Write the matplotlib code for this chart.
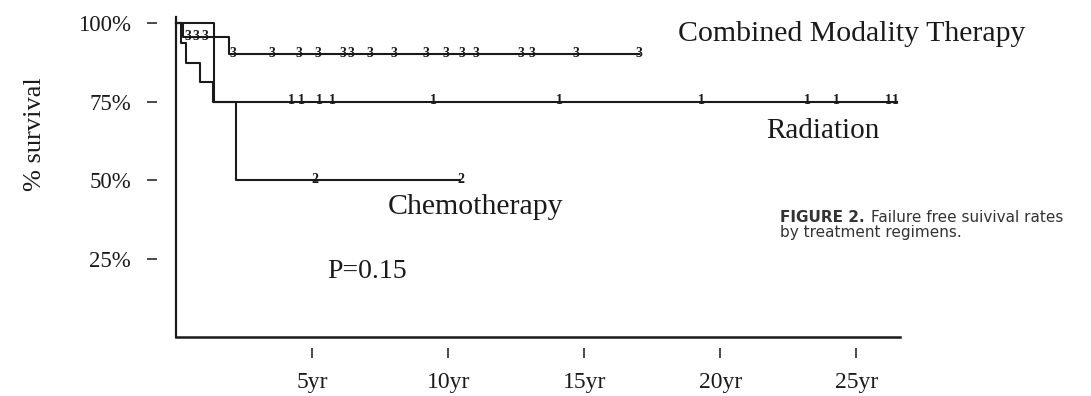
#!/usr/bin/env python3
"""
Kaplan-Meier style failure free survival by treatment regimen (scanned figure redraw).
"""
import numpy as np
import matplotlib
matplotlib.use('Agg')
import matplotlib.pyplot as plt

# step curves: event times (yr) and survival (%) after each step
cmt_t = [0.0, 0.26, 1.95]
cmt_s = [100.0, 95.6, 90.2]
cmt_end = 17.0
cmt_cens = [0.44, 0.72, 1.06, 2.1, 3.52, 4.51, 5.2, 6.12, 6.42, 7.11, 8.02, 9.19,
            9.93, 10.51, 11.03, 12.67, 13.08, 14.69, 17.0]

rad_t = [0.0, 0.18, 0.37, 0.88, 1.36]
rad_s = [100.0, 93.75, 87.5, 81.25, 75.0]
rad_end = 26.5
rad_cens = [4.25, 4.62, 5.27, 5.75, 9.45, 14.07, 19.3, 23.2, 24.25, 26.18, 26.45]

chemo_t = [0.0, 1.39, 2.2]
chemo_s = [100.0, 75.0, 50.0]
chemo_end = 10.45
chemo_cens = [5.1, 10.45]

yticks = [25, 50, 75, 100]
ytick_labels = ['25%', '50%', '75%', '100%']
xticks = [5, 10, 15, 20, 25]
xtick_labels = ['5yr', '10yr', '15yr', '20yr', '25yr']

SERIF = 'Liberation Serif'
INK = '#1a1a1a'


def surv_at(t, times, surv):
    i = np.searchsorted(times, t, side='right') - 1
    return surv[max(i, 0)]


def main():
    fig = plt.figure(figsize=(10.91, 3.96), dpi=100)
    ax = fig.add_axes([0.1613, 0.149, 0.6636, 0.808])
    ax.set_xlim(0, 26.6)
    ax.set_ylim(0, 102)

    curves = [
        (cmt_t, cmt_s, cmt_end, cmt_cens, '3'),
        (rad_t, rad_s, rad_end, rad_cens, '1'),
        (chemo_t, chemo_s, chemo_end, chemo_cens, '2'),
    ]
    for times, surv, end, cens, mark in curves:
        x = list(times) + [end]
        y = list(surv) + [surv[-1]]
        ax.step(x, y, where='post', color=INK, lw=1.5, clip_on=False)
        for c in cens:
            ax.text(c, surv_at(c, times, surv) - 0.8, mark, fontsize=10, fontweight='bold',
                    family=SERIF, color=INK, ha='center', va='baseline')

    # axis frame drawn by hand, ticks sit detached from it like in the print
    for side in ['top', 'right', 'left', 'bottom']:
        ax.spines[side].set_visible(False)
    ax.spines['left'].set_position(('outward', 13.5))
    ax.spines['bottom'].set_position(('outward', 8))
    ax.plot([0, 0], [0, 102], color=INK, lw=1.6, clip_on=False)
    ax.plot([0, 26.6], [0, 0], color=INK, lw=1.8, clip_on=False)

    ax.set_yticks(yticks)
    ax.set_yticklabels(ytick_labels, family=SERIF, fontsize=16.5)
    ax.set_xticks(xticks)
    ax.set_xticklabels(xtick_labels, family=SERIF, fontsize=17)
    ax.tick_params(axis='y', direction='out', length=7, width=1.1, pad=12, colors=INK)
    ax.tick_params(axis='x', direction='out', length=7, width=1.1, pad=10, colors=INK)

    ax.set_ylabel('% survival', family=SERIF, fontsize=19, color=INK)
    ax.yaxis.set_label_coords(-0.18, 0.634)

    ax.text(18.45, 96.5, 'Combined Modality Therapy', family=SERIF, fontsize=21.5,
            ha='left', va='center', color=INK)
    ax.text(21.7, 65.6, 'Radiation', family=SERIF, fontsize=21,
            ha='left', va='center', color=INK)
    ax.text(7.77, 41.4, 'Chemotherapy', family=SERIF, fontsize=21.5,
            ha='left', va='center', color=INK)
    ax.text(5.57, 21.0, 'P=0.15', family=SERIF, fontsize=20,
            ha='left', va='center', color=INK)

    # figure caption on the right
    cap_y1 = 1 - 218 / 396
    cap_y2 = 1 - 233 / 396
    cap = fig.text(780 / 1091, cap_y1, 'FIGURE 2.', family='DejaVu Sans',
                   fontsize=11, fontweight='bold', color='#333333', ha='left', va='center')
    fig.canvas.draw()
    bb = cap.get_window_extent()
    fig.text(bb.x1 / fig.bbox.width + 0.006, cap_y1, 'Failure free suivival rates',
             family='DejaVu Sans', fontsize=11, color='#333333', ha='left', va='center')
    fig.text(780 / 1091, cap_y2, 'by treatment regimens.', family='DejaVu Sans',
             fontsize=11, color='#333333', ha='left', va='center')

    fig.savefig('out.png', dpi=100)


if __name__ == '__main__':
    main()
